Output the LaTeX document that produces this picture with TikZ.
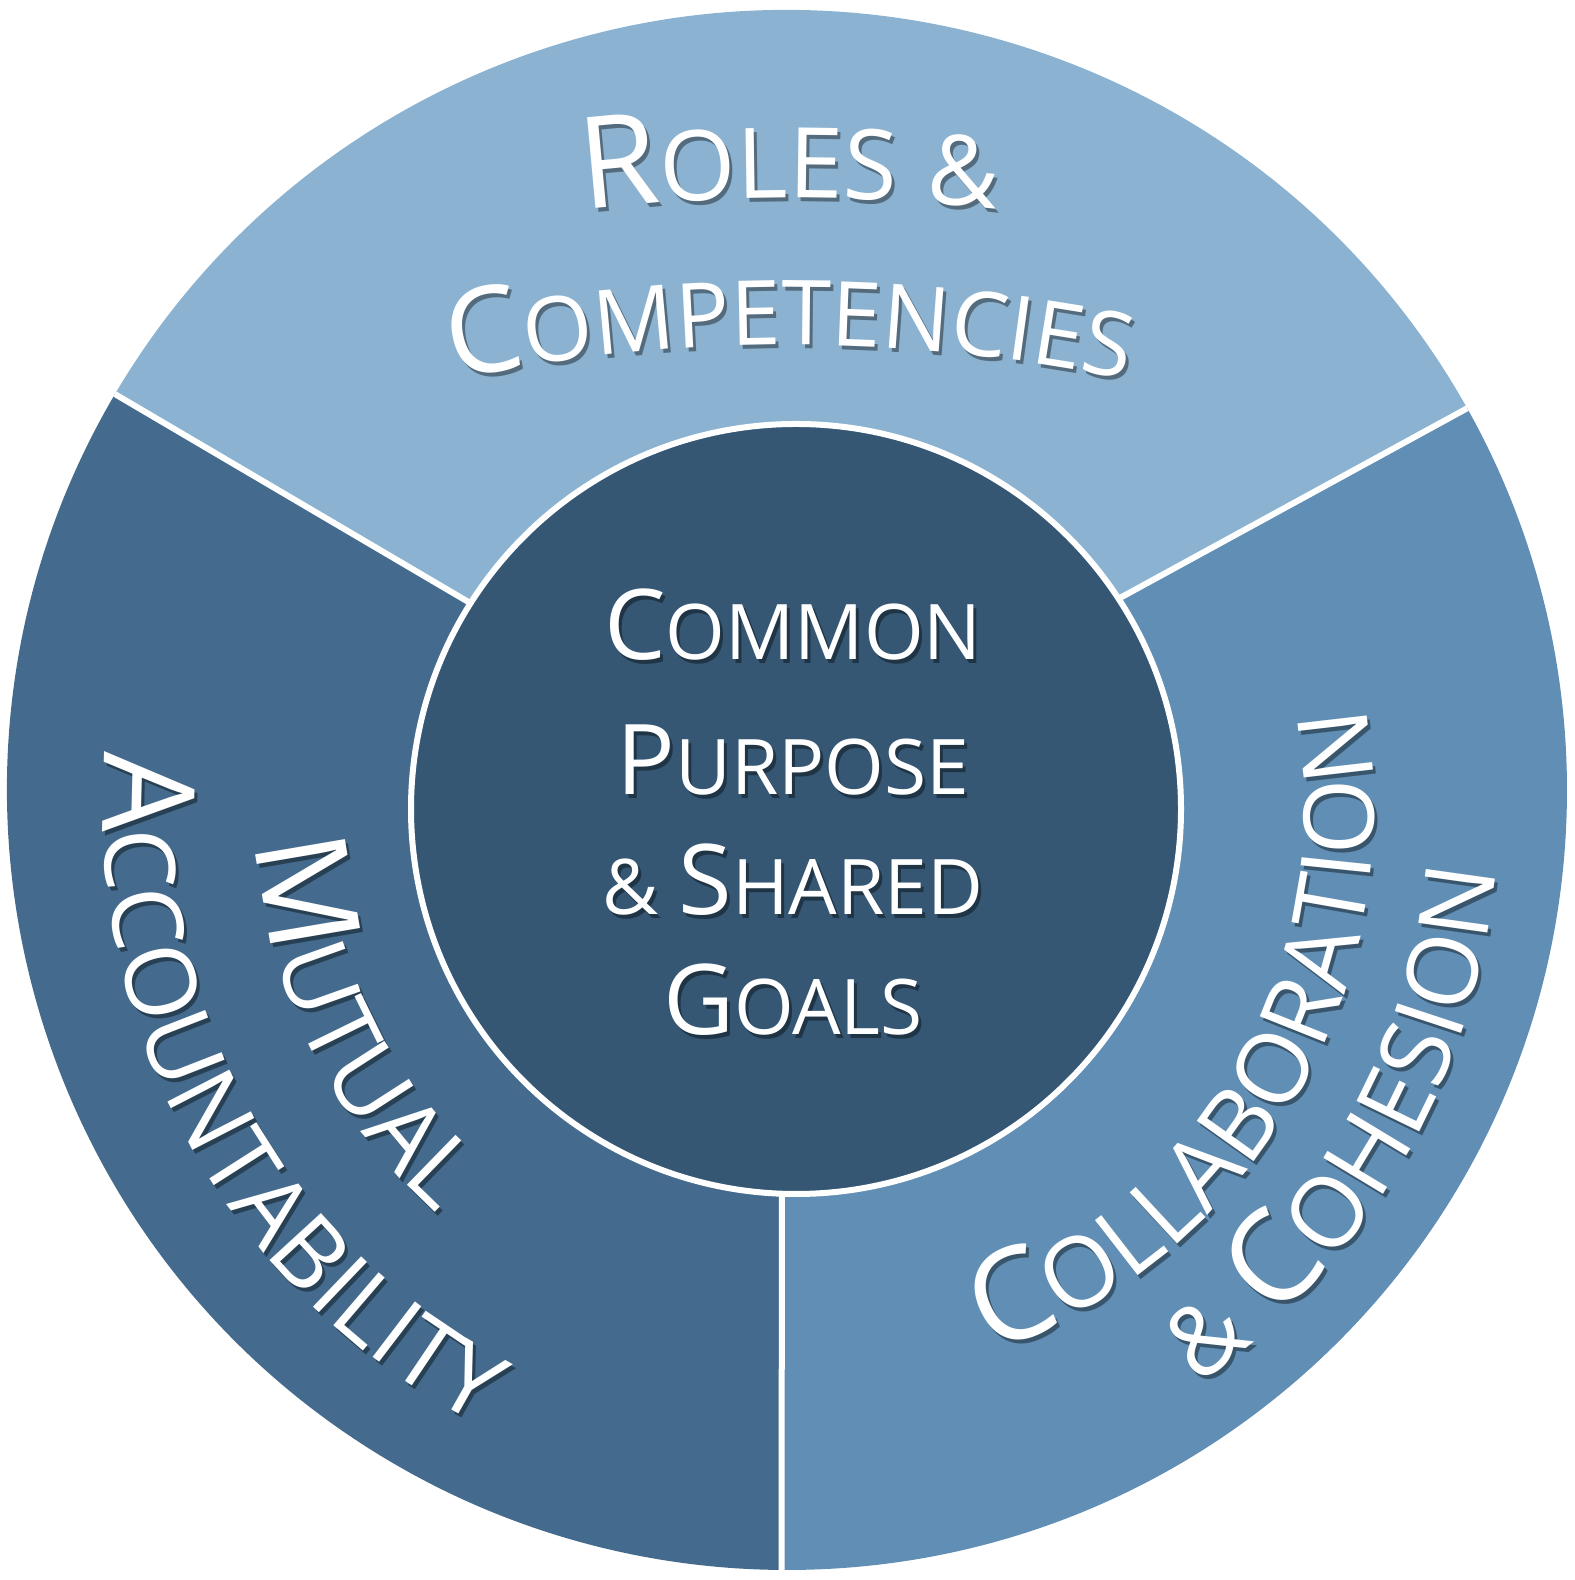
\documentclass[tikz,border=0pt]{standalone}
\usepackage{fontspec}
\setmainfont{Open Sans}
\definecolor{topc}{HTML}{8BB3D1}
\definecolor{leftc}{HTML}{446B8D}
\definecolor{rightc}{HTML}{608EB4}
\definecolor{centc}{HTML}{355774}
\newcommand\BF{\fontsize{128}{128}\selectfont}
\newcommand\SF{\fontsize{98}{98}\selectfont}
\newcommand\KBF{\fontsize{120}{120}\selectfont}
\newcommand\KSF{\fontsize{90}{90}\selectfont}
\newcommand\CBF{\fontsize{98}{98}\selectfont}
\newcommand\CSF{\fontsize{77}{77}\selectfont}
\newdimen\arcW
\newdimen\arcL
\newsavebox\arcbox
% measure letters outside the picture: #1 list macro, #2 width macro, #3 letters
\newcommand\prepword[3]{%
  \global\arcW=0pt
  \gdef\arctmp{}%
  \foreach \ch in {#3}{%
    \sbox\arcbox{\ch}%
    \arcL=\wd\arcbox
    \global\advance\arcW by 0.5\arcL
    \xdef\arctmp{\unexpanded\expandafter{\arctmp}\ifx\arctmp\empty\else,\fi\the\arcW/\unexpanded\expandafter{\ch}}%
    \global\advance\arcW by 0.5\arcL
  }%
  \global\let#1\arctmp
  \xdef#2{\the\arcW}%
}
% place letters: #1 centre name, #2 radius, #3 middle angle, #4 dir (-1 clockwise tops out, 1 counter-clockwise tops in), #5 list, #6 width
\newcommand\drawword[6]{%
  \foreach \off/\ch in #5{%
    \pgfmathsetmacro\arcmid{#3 + (#4)*((\off)-0.5*(#6))/(#2*1.00375)*57.29578}%
    \pgfmathsetmacro\arcrot{\arcmid + (#4)*90}%
    \path (#1) ++(\arcmid:#2) ++(3,-4) node[anchor=base, rotate=\arcrot, inner sep=0pt, text=black, opacity=.4]{\ch};
    \path (#1) ++(\arcmid:#2) node[anchor=base, rotate=\arcrot, inner sep=0pt, text=white]{\ch};
  }%
}
\tikzset{divider/.style={draw=white, line width=6bp},
  hubline/.style={anchor=base, inner sep=0pt, text=white},
  hubshade/.style={anchor=base, inner sep=0pt, text=black, opacity=.4}}
\begin{document}
\prepword\RolesL\RolesW{\BF R,\SF O,\SF L,\SF E,\SF S,{\SF\hspace{.3em}},\SF\&}
\prepword\CompL\CompW{\KBF C,\KSF O,\KSF M,\KSF P,\KSF E,\KSF T,\KSF E,\KSF N,\KSF C,\KSF I,\KSF E,\KSF S}
\prepword\MutL\MutW{\BF M,\SF U,\SF T,\SF U,\SF A,\SF L}
\prepword\AccL\AccW{\BF A,\SF C,\SF C,\SF O,\SF U,\SF N,\SF T,\SF A,\SF B,\SF I,\SF L,\SF I,\SF T,\SF Y}
\prepword\ColL\ColW{\BF C,\SF O,\SF L,\SF L,\SF A,\SF B,\SF O,\SF R,\SF A,\SF T,\SF I,\SF O,\SF N}
\prepword\CohL\CohW{\SF\&,{\SF\hspace{.3em}},\BF C,\SF O,\SF H,\SF E,\SF S,\SF I,\SF O,\SF N}
\begin{tikzpicture}[x=1bp,y=1bp]
\useasboundingbox (0,0) rectangle (1575,1580);
\coordinate (O) at (787,790);
\coordinate (I) at (796,771);
\coordinate (Lo) at ([shift={(149.5:780)}]O);
\coordinate (Ro) at ([shift={(29.3:780)}]O);
\coordinate (Bo) at ([shift={(-90.4:780)}]O);
\coordinate (Li) at ([shift={(147.7:385)}]I);
\coordinate (Ri) at ([shift={(33.1:385)}]I);
\coordinate (Bi) at ([shift={(-92.1:385)}]I);
\coordinate (Ta) at (790,-429);
% sectors
\fill[topc] (Ro) arc[start angle=29.3, end angle=149.5, radius=780] -- (Li) -- (Ri) -- cycle;
\fill[leftc] (Lo) arc[start angle=149.5, end angle=269.6, radius=780] -- (Bi) -- (Li) -- cycle;
\fill[rightc] (Bo) arc[start angle=-90.4, end angle=29.3, radius=780] -- (Ri) -- (Bi) -- cycle;
% dividers
\draw[divider] (Li) -- (Lo);
\draw[divider] (Ri) -- (Ro);
\draw[divider] (Bi) -- (Bo);
% centre circle
\node[circle, fill=centc, draw=white, line width=6bp, minimum size=770bp, inner sep=0pt] (hub) at (I) {};
\node[hubshade] (l1s) at (796,916) {\CBF C\CSF OMMON};
\node[hubline] (l1) at (793,920) {\CBF C\CSF OMMON};
\node[hubshade] (l2s) at (796,781) {\CBF P\CSF URPOSE};
\node[hubline] (l2) at (793,785) {\CBF P\CSF URPOSE};
\node[hubshade] (l3s) at (796,661) {\CSF\&\ \CBF S\CSF HARED};
\node[hubline] (l3) at (793,665) {\CSF\&\ \CBF S\CSF HARED};
\node[hubshade] (l4s) at (796,541) {\CBF G\CSF OALS};
\node[hubline] (l4) at (793,545) {\CBF G\CSF OALS};
% top texts
\drawword{Ta}{1811}{90}{-1}{\RolesL}{\RolesW}
\drawword{Ta}{1664}{90}{-1}{\CompL}{\CompW}
% left texts
\drawword{I}{541}{206}{1}{\MutL}{\MutW}
\drawword{I}{693}{209}{1}{\AccL}{\AccW}
% right texts
\drawword{I}{578}{-30}{1}{\ColL}{\ColW}
\drawword{I}{702}{-30}{1}{\CohL}{\CohW}
\end{tikzpicture}
\end{document}
